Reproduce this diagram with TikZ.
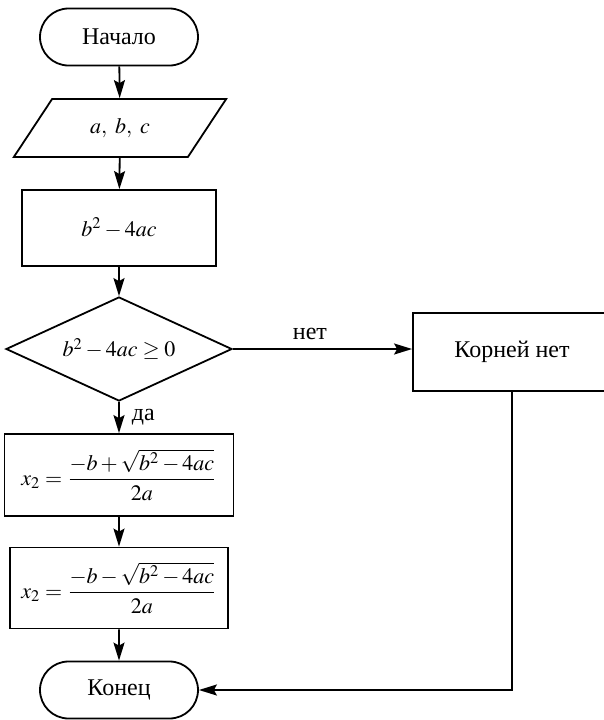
\documentclass[tikz,border=0pt]{standalone}
\usepackage{amsmath}
\usepackage{mathptmx}
\usepackage{fontspec}
\setmainfont{Liberation Serif}
\newfontfamily\chartfont{Liberation Serif}
\usetikzlibrary{arrows.meta,positioning,shapes.geometric,shapes.misc}
\tikzset{
  >={Stealth[length=9pt,width=5.5pt,inset=1.5pt]},
  blk/.style={draw,line width=0.9pt,inner sep=0pt,align=center,
    font=\chartfont\fontsize{12}{14}\selectfont},
  eq/.style={font=\fontsize{11}{13}\selectfont},
  term/.style={blk,rounded rectangle,minimum width=79pt,minimum height=28.5pt},
  io/.style={blk,eq,trapezium,trapezium left angle=49,trapezium right angle=131,
    trapezium stretches=true,minimum width=106.5pt,minimum height=29pt},
  proc/.style={blk,rectangle,minimum width=#1,minimum height=38pt},
  proc/.default=97pt,
  cond/.style={blk,eq,diamond,aspect=2.2,minimum width=113pt,minimum height=52pt},
  flow/.style={->,line width=0.9pt},
  tag/.style={font=\chartfont\fontsize{12}{14}\selectfont,inner sep=2pt},
}
\begin{document}
\begin{tikzpicture}[x=0.5pt,y=-0.5pt]
  \useasboundingbox (0,0) rectangle (604,720);
  % main column
  \node[term] (start) at (119,37) {Начало};
  \node[io] (input) at (120,128) {$a,\ b,\ c$};
  \node[proc,eq] (disc) at (119,228) {$b^2-4ac$};
  \node[cond] (check) at (119,349) {$b^2-4ac\geq 0$};
  \node[proc=114.5pt,eq,minimum height=41pt] (root1) at (119,475)
    {$x_2=\dfrac{-b+\sqrt{b^2-4ac}}{2a}$};
  \node[proc=109pt,eq,minimum height=40.5pt] (root2) at (119,588)
    {$x_2=\dfrac{-b-\sqrt{b^2-4ac}}{2a}$};
  \node[term] (stop) at (119,690) {Конец};
  % branch
  \node[proc=99pt,minimum height=39pt] (none) at (512,352) {Корней нет};
  \draw[flow] (start) -- (input);
  \draw[flow] (input) -- (disc);
  \draw[flow] (disc) -- (check);
  \draw[flow] (check) -- node[tag,anchor=west,xshift=4pt] {да} (root1);
  \draw[flow] (root1) -- (root2);
  \draw[flow] (root2) -- (stop);
  \draw[flow] (check.east) -- node[tag,pos=0.43,above,yshift=2pt] {нет} (check.east -| none.west);
  \draw[flow] (none.south) |- (stop.east);
\end{tikzpicture}
\end{document}
